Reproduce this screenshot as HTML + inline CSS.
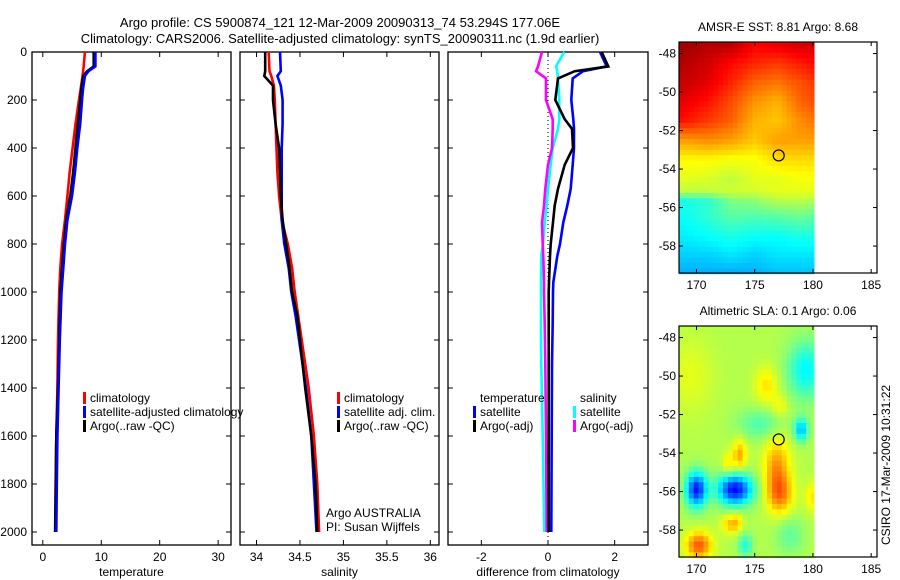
<!DOCTYPE html>
<html><head><meta charset="utf-8">
<style>
body{margin:0;background:#fff;}
svg{display:block;font-family:"Liberation Sans",sans-serif;}
text{fill:#000;}
</style></head>
<body>
<svg id="fig" width="900" height="580" viewBox="0 0 900 580" xmlns="http://www.w3.org/2000/svg">
<text x="340" y="27" font-size="13" text-anchor="middle">Argo profile: CS 5900874_121 12-Mar-2009 20090313_74 53.294S 177.06E</text>
<text x="340" y="43" font-size="13" text-anchor="middle">Climatology: CARS2006. Satellite-adjusted climatology: synTS_20090311.nc (1.9d earlier)</text>
<g id="p1"></g>
<g id="p2"></g>
<g id="p3"></g>
<g id="m1"></g>
<g id="m2"></g>
<text transform="translate(890,465) rotate(-90)" font-size="12" text-anchor="middle">CSIRO 17-Mar-2009 10:31:22</text>
</svg>
<script>
const depthT=[0,60,80,100,150,200,300,400,500,600,700,800,900,1000,1200,1400,1600,1800,2000];
const tempClim=[7.2,7.0,6.9,6.8,6.5,6.2,5.6,5.1,4.6,4.2,3.8,3.3,3.0,2.8,2.6,2.5,2.3,2.2,2.2];
const tempSat=[9.0,9.0,7.8,7.2,6.9,6.7,6.4,5.9,5.5,5.0,4.2,3.8,3.5,3.2,2.9,2.7,2.5,2.4,2.3];
const tempArgo=[8.7,8.7,7.6,6.9,6.6,6.4,6.0,5.6,5.2,4.7,4.0,3.6,3.3,3.0,2.8,2.6,2.3,2.2,2.1];
const depthS=[0,80,100,140,200,300,400,500,600,700,800,900,1000,1100,1400,1600,1800,2000];
const salClim=[34.14,34.15,34.17,34.20,34.21,34.22,34.23,34.24,34.26,34.29,34.36,34.41,34.44,34.48,34.60,34.66,34.70,34.72];
const salSat=[34.27,34.28,34.24,34.28,34.30,34.30,34.29,34.29,34.29,34.29,34.32,34.37,34.40,34.45,34.57,34.63,34.66,34.69];
const salArgo=[34.10,34.10,34.09,34.19,34.19,34.22,34.26,34.27,34.28,34.30,34.34,34.38,34.41,34.47,34.56,34.63,34.68,34.70];
const depthD=[0,60,80,110,200,280,320,400,470,570,640,710,800,850,960,1000,1130,1300,1600,2000];
const diffTSat=[1.56,1.76,1.05,0.74,0.70,0.76,0.78,0.78,0.74,0.68,0.58,0.46,0.36,0.28,0.16,0.15,0.14,0.12,0.11,0.10];
const diffTArgo=[1.61,1.81,0.80,0.30,0.22,0.50,0.72,0.75,0.50,0.30,0.20,0.15,0.08,0.06,0.03,0.02,0.02,0.02,0.02,0.02];
const diffSSat=[0.49,0.24,0.28,0.30,0.34,0.34,0.30,0.14,0.08,0.00,-0.04,-0.10,-0.15,-0.20,-0.21,-0.21,-0.21,-0.20,-0.16,-0.11];
const diffSArgo=[-0.18,-0.30,-0.36,-0.06,-0.06,0.14,0.14,0.12,0.00,-0.08,-0.12,-0.18,-0.16,-0.14,-0.12,-0.12,-0.10,-0.08,-0.06,-0.04];
const depthTicks=[0,200,400,600,800,1000,1200,1400,1600,1800,2000];
const tTicks=[0,10,20,30];
const sTicks=[34,34.5,35,35.5,36];
const dTicks=[-2,0,2];
const latTicks=[-48,-50,-52,-54,-56,-58];
const lonTicks=[170,175,180,185];
const sstLats=[-47.5,-48.5,-49.5,-50.5,-51.5,-52.5,-53.5,-54.5,-55.2,-55.6,-56.5,-57.5,-58.5,-59.3];
const sstLons=[168.8,171,173,175,177,179,180.1];
const sstGrid=[
[0.97,0.95,0.95,0.88,0.9,0.92,0.92],
[0.95,0.92,0.87,0.84,0.82,0.85,0.87],
[0.93,0.9,0.84,0.78,0.76,0.8,0.82],
[0.9,0.86,0.8,0.73,0.7,0.78,0.8],
[0.86,0.82,0.78,0.7,0.68,0.74,0.76],
[0.72,0.74,0.72,0.68,0.72,0.72,0.72],
[0.63,0.63,0.62,0.62,0.66,0.66,0.66],
[0.6,0.59,0.56,0.6,0.6,0.62,0.62],
[0.56,0.56,0.58,0.58,0.6,0.6,0.6],
[0.4,0.42,0.5,0.52,0.56,0.56,0.55],
[0.38,0.42,0.46,0.45,0.46,0.48,0.46],
[0.36,0.38,0.4,0.38,0.38,0.4,0.4],
[0.33,0.33,0.35,0.33,0.35,0.35,0.35],
[0.3,0.3,0.3,0.3,0.32,0.32,0.32]];
const slaBase=[0.55];
const slaBlobLon=[170,173.3,176.9,177.2,173.7,172.7,170.2,179,179.4,176.0,177.2,180,172.8,173.5,175.5,178.0,174.2,169.5];
const slaBlobLat=[-55.9,-55.9,-54.8,-56.2,-54.1,-54.6,-58.8,-52.8,-49.7,-50.5,-51.6,-56.3,-57.7,-57.6,-52.5,-58.3,-58.8,-50];
const slaBlobAmp=[-0.4,-0.42,0.18,0.16,0.16,0.1,0.24,-0.24,-0.18,0.1,0.07,0.1,0.12,0.1,-0.1,-0.08,-0.15,0.05];
const slaBlobRadLon=[0.9,1.5,1.1,1.1,0.6,0.5,1.1,0.6,1.6,1.0,0.7,0.7,0.7,0.5,2.0,1.2,0.6,2.0];
const slaBlobRadLat=[0.9,0.8,1.6,1.0,0.8,0.6,0.7,0.6,1.5,1.0,0.6,0.8,0.5,0.5,0.8,1.0,0.6,2.0];

const NS='http://www.w3.org/2000/svg';
function mk(parent,tag,attrs,txt){const e=document.createElementNS(NS,tag);for(const k in attrs)e.setAttribute(k,attrs[k]);if(txt!==undefined)e.textContent=txt;parent.appendChild(e);return e;}

const yTop=52,yBot=545;
function yD(d){return 52+d*0.24;}

function panel(g,x0,x1,xmin,xmax,xticks,xlabel,showY,name){
  const sx=v=>x0+(v-xmin)/(xmax-xmin)*(x1-x0);
  const fr=mk(g,'rect',{x:x0,y:yTop,width:x1-x0,height:yBot-yTop,fill:'none',stroke:'#000','stroke-width':1.3});
  
  
  depthTicks.forEach(d=>{
    mk(g,'line',{x1:x0,x2:x0+5,y1:yD(d),y2:yD(d),stroke:'#000'});
    mk(g,'line',{x1:x1,x2:x1-5,y1:yD(d),y2:yD(d),stroke:'#000'});
    if(showY){const t=mk(g,'text',{x:x0-5,y:yD(d)+4,'font-size':12,'text-anchor':'end'},String(d));
      
      }
  });
  xticks.forEach(v=>{
    mk(g,'line',{x1:sx(v),x2:sx(v),y1:yBot,y2:yBot-5,stroke:'#000'});
    mk(g,'line',{x1:sx(v),x2:sx(v),y1:yTop,y2:yTop+5,stroke:'#000'});
    const t=mk(g,'text',{x:sx(v),y:yBot+16,'font-size':12,'text-anchor':'middle'},String(v));
    
    
  });
  const xl=mk(g,'text',{x:(x0+x1)/2,y:yBot+31,'font-size':12,'text-anchor':'middle'},xlabel);
  
  
  return sx;
}
function line(g,sx,depths,vals,color,name){
  const pts=vals.map((v,i)=>sx(v).toFixed(1)+','+yD(depths[i]).toFixed(1)).join(' ');
  const p=mk(g,'polyline',{points:pts,fill:'none',stroke:color,'stroke-width':2.6});
  
  
}
function legend(g,x,y,items){
  items.forEach((it,i)=>{
    if(it[1]) mk(g,'rect',{x:x,y:y+i*14-10,width:3,height:12,fill:it[1]});
    const t=mk(g,'text',{x:x+7,y:y+i*14,'font-size':12},it[0]);
    
    
  });
}
const p1=document.getElementById('p1');
const s1=panel(p1,32,231,-1.85,32.2,tTicks,'temperature',true,'temperature');
line(p1,s1,depthT,tempClim,'#f00','temp-climatology-line');
line(p1,s1,depthT,tempArgo,'#000','temp-argo-line');
line(p1,s1,depthT,tempSat,'#00f','temp-satellite-line');
legend(p1,83,402,[['climatology','#f00'],['satellite-adjusted climatology','#00f'],['Argo(..raw -QC)','#000']]);

const p2=document.getElementById('p2');
const s2=panel(p2,240,439,33.81,36.1,sTicks,'salinity',false,'salinity');
line(p2,s2,depthS,salClim,'#f00','sal-climatology-line');
line(p2,s2,depthS,salSat,'#00f','sal-satellite-line');
line(p2,s2,depthS,salArgo,'#000','sal-argo-line');
legend(p2,337,402,[['climatology','#f00'],['satellite adj. clim.','#00f'],['Argo(..raw -QC)','#000']]);
mk(p2,'text',{x:326,y:517,'font-size':12},'Argo AUSTRALIA');
mk(p2,'text',{x:326,y:531,'font-size':12},'PI: Susan Wijffels');

const p3=document.getElementById('p3');
const s3=panel(p3,448,648,-3.0,3.0,dTicks,'difference from climatology',false,'difference');
mk(p3,'line',{x1:s3(0),x2:s3(0),y1:yTop,y2:yBot,stroke:'#000','stroke-dasharray':'1,3'});
line(p3,s3,depthD,diffSSat,'#0ff','sal-diff-satellite-line');
line(p3,s3,depthD,diffSArgo,'#f0f','sal-diff-argo-line');
line(p3,s3,depthD,diffTSat,'#00f','temp-diff-satellite-line');
line(p3,s3,depthD,diffTArgo,'#000','temp-diff-argo-line');
legend(p3,473,402,[['temperature',null],['satellite','#00f'],['Argo(-adj)','#000']]);
legend(p3,573,402,[['salinity',null],['satellite','#0ff'],['Argo(-adj)','#f0f']]);

function jet(v){v=Math.max(0,Math.min(1,v));
  const r=Math.max(0,Math.min(1,Math.min(4*v-1.5,-4*v+4.5)));
  const g=Math.max(0,Math.min(1,Math.min(4*v-0.5,-4*v+3.5)));
  const b=Math.max(0,Math.min(1,Math.min(4*v+0.5,-4*v+2.5)));
  return 'rgb('+Math.round(r*255)+','+Math.round(g*255)+','+Math.round(b*255)+')';}
function interp(arr,v){
  for(let i=0;i<arr.length-1;i++){const a=arr[i],b=arr[i+1];
    if((v-a)*(v-b)<=0){return i+(v-a)/(b-a);} }
  return (arr[0]<arr[1])?(v<arr[0]?0:arr.length-1):(v>arr[0]?0:arr.length-1);}
function grid(lat,lon){
  const fi=interp(sstLats,lat),fj=interp(sstLons,lon);
  const i0=Math.min(Math.floor(fi),sstLats.length-2),j0=Math.min(Math.floor(fj),sstLons.length-2);
  const a=fi-i0,b=fj-j0;
  return sstGrid[i0][j0]*(1-a)*(1-b)+sstGrid[i0+1][j0]*a*(1-b)+sstGrid[i0][j0+1]*(1-a)*b+sstGrid[i0+1][j0+1]*a*b;}
function sla(lat,lon){let v=slaBase[0];
  for(let k=0;k<slaBlobLon.length;k++){const dx=(lon-slaBlobLon[k])/slaBlobRadLon[k],dy=(lat-slaBlobLat[k])/slaBlobRadLat[k];
    v+=slaBlobAmp[k]*Math.exp(-(dx*dx+dy*dy));}
  return v;}

function map(gid,y0,title,fn,name){
  const g=document.getElementById(gid);
  const x0=679,x1=877,y1=y0+231;
  const lonMin=168.5,lonMax=185.5,latTop=-47.4,latBot=-59.4;
  const sx=l=>x0+(l-lonMin)/(lonMax-lonMin)*(x1-x0);
  const sy=l=>y0+(latTop-l)/(latTop-latBot)*(y1-y0);
  const dl=0.42,dt=0.28;
  for(let lat=latTop;lat>latBot;lat-=dt){
    for(let lon=lonMin;lon<180.1;lon+=dl){
      const w=Math.min(dl,180.1-lon);
      const c=mk(g,'rect',{x:sx(lon).toFixed(2),y:sy(lat).toFixed(2),width:(w/(lonMax-lonMin)*(x1-x0)+0.4).toFixed(2),height:(dt/(latTop-latBot)*(y1-y0)+0.4).toFixed(2),fill:jet(fn(lat-dt/2,lon+dl/2))});
      
      
    }
  }
  mk(g,'rect',{x:x0,y:y0,width:x1-x0,height:y1-y0,fill:'none',stroke:'#000','stroke-width':1.2});
  latTicks.forEach(l=>{
    mk(g,'line',{x1:x0,x2:x0+4,y1:sy(l),y2:sy(l),stroke:'#000'});
    mk(g,'line',{x1:x1,x2:x1-4,y1:sy(l),y2:sy(l),stroke:'#000'});
    const t=mk(g,'text',{x:x0-3,y:sy(l)+4,'font-size':12,'text-anchor':'end'},String(l));
    
    
  });
  lonTicks.forEach(l=>{
    mk(g,'line',{x1:sx(l),x2:sx(l),y1:y1,y2:y1-4,stroke:'#000'});
    mk(g,'line',{x1:sx(l),x2:sx(l),y1:y0,y2:y0+4,stroke:'#000'});
    const t=mk(g,'text',{x:sx(l),y:y1+16,'font-size':12,'text-anchor':'middle'},String(l));
    
    
  });
  const tt=mk(g,'text',{x:(x0+x1)/2,y:y0-11,'font-size':12,'text-anchor':'middle'},title);
  
  
  const c=mk(g,'circle',{cx:sx(177.06),cy:sy(-53.294),r:5.5,fill:'none',stroke:'#000','stroke-width':1.2});
  
  
}
map('m1',42,'AMSR-E SST: 8.81  Argo: 8.68',grid,'sst-map');
map('m2',326,'Altimetric SLA: 0.1  Argo: 0.06',sla,'sla-map');
</script>
</body></html>
